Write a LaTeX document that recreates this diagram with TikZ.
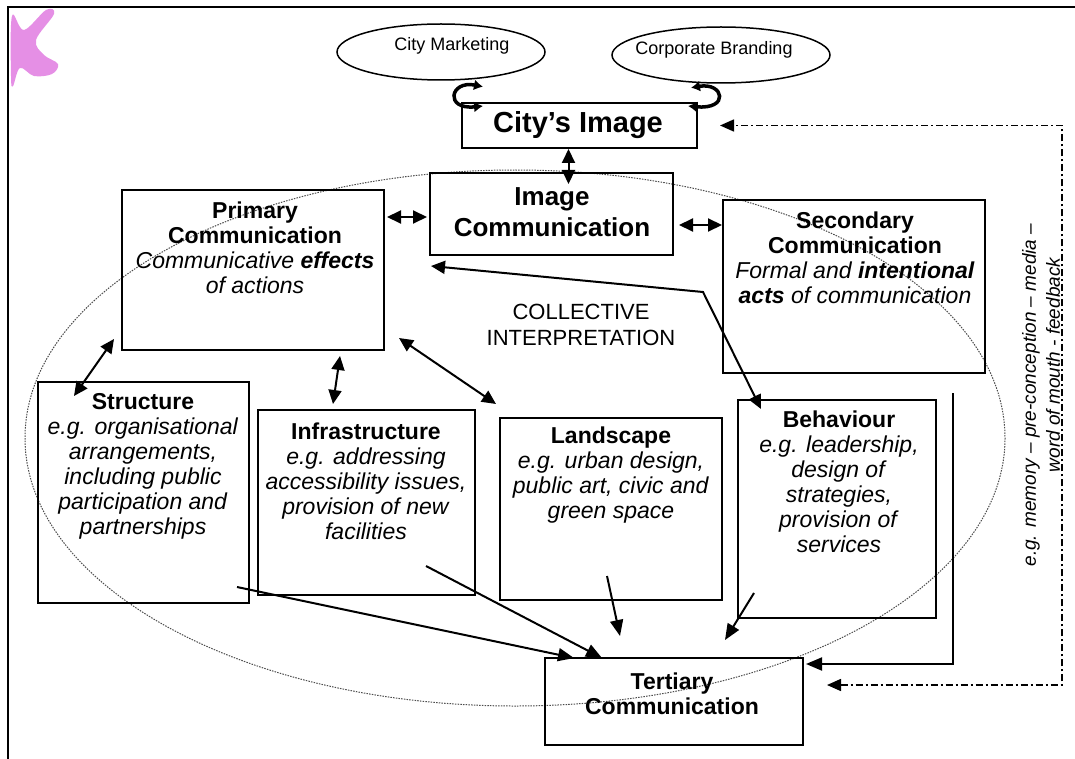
\documentclass[tikz,border=0pt]{standalone}
\usepackage{fontspec}
\setmainfont{Liberation Sans}
\usetikzlibrary{arrows.meta,calc,shapes.geometric}
\begin{document}
\begin{tikzpicture}[x=1pt,y=-1pt,
  box/.style={draw, line width=2pt, rectangle, inner sep=0pt},
  txt/.style={align=center, inner sep=0pt, font=\fontsize{23}{25}\selectfont},
  oval/.style={draw, line width=1.5pt, ellipse, inner sep=0pt},
  dbl/.style={line width=2pt, {Triangle[length=14pt,width=13pt]}-{Triangle[length=14pt,width=13pt]}},
  single/.style={line width=2pt, -{Triangle[length=16pt,width=13pt]}},
  loopar/.style={line width=3.5pt, {Latex[length=9pt,width=11pt]}-{Latex[length=9pt,width=11pt]}},
  fb/.style={line width=1.6pt, dash pattern=on 7pt off 3pt on 2pt off 3pt, {Triangle[length=14pt,width=12pt]}-{Triangle[length=14pt,width=12pt]}},
  dotline/.style={line width=1pt, black!70, dash pattern=on 1.5pt off 1.2pt}
]
\useasboundingbox (0,0) rectangle (1075,759);

% purple marker blob (scan artefact)
\fill[violet!45!magenta!55, opacity=0.8] plot[smooth cycle, tension=0.6] coordinates
  {(12,16) (24,30) (46,10) (54,14) (36,40) (44,55) (58,64) (52,74) (34,76) (20,68) (13,86) (11,76)};

% frame
\draw[line width=2.5pt] (8,759) -- (8,7) -- (1075,7);

% big dotted ellipse
\draw[dotline] (515,438) ellipse [x radius=490, y radius=268];

% ellipses
\node[oval, minimum width=208pt, minimum height=56pt] (cm) at (441,52) {};
\node[font=\fontsize{18}{20}\selectfont, inner sep=0pt] (cm-t) at (452,46) {City Marketing};
\node[oval, minimum width=218pt, minimum height=56pt] (cb) at (721,55) {};
\node[font=\fontsize{18}{20}\selectfont, inner sep=0pt] (cb-t) at (714,50) {Corporate Branding};

% boxes
\node[box, minimum width=235pt, minimum height=45pt] (cityimg) at (579.5,125.5) {};
\node[box, minimum width=243pt, minimum height=82pt] (imgcomm) at (551.5,214) {};
\node[box, minimum width=262pt, minimum height=160pt] (primary) at (253,270) {};
\node[box, minimum width=262pt, minimum height=173pt] (secondary) at (854,286.5) {};
\node[box, minimum width=211pt, minimum height=221pt] (structure) at (143.5,492.5) {};
\node[box, minimum width=217pt, minimum height=185pt] (infra) at (366.5,502.5) {};
\node[box, minimum width=222pt, minimum height=182pt] (landscape) at (611,509) {};
\node[box, minimum width=198pt, minimum height=218pt] (behaviour) at (837,509) {};
\node[box, minimum width=258pt, minimum height=87pt] (tertiary) at (674,701.5) {};

% texts
\node[inner sep=0pt, font=\bfseries\fontsize{29}{32}\selectfont] (cityimg-t) at (578,125) {City’s Image};
\node[align=center, inner sep=0pt, font=\bfseries\fontsize{26}{31}\selectfont] (imgcomm-t) at (552,212) {Image\\Communication};
\node[txt] (primary-t) at (255,248) {\textbf{Primary}\\\textbf{Communication}\\\textit{Communicative \textbf{effects}}\\\textit{of actions}};
\node[txt] (secondary-t) at (855,258) {\textbf{Secondary}\\\textbf{Communication}\\\textit{Formal and \textbf{intentional}}\\\textit{\textbf{acts} of communication}};
\node[txt] (structure-t) at (143,466) {\textbf{Structure}\\\textit{e.g. organisational}\\\textit{arrangements,}\\\textit{including public}\\\textit{participation and}\\\textit{partnerships}};
\node[txt] (infra-t) at (366,481) {\textbf{Infrastructure}\\\textit{e.g. addressing}\\\textit{accessibility issues,}\\\textit{provision of new}\\\textit{facilities}};
\node[txt] (landscape-t) at (611,475) {\textbf{Landscape}\\\textit{e.g. urban design,}\\\textit{public art, civic and}\\\textit{green space}};
\node[txt] (behaviour-t) at (839,482) {\textbf{Behaviour}\\\textit{e.g. leadership,}\\\textit{design of}\\\textit{strategies,}\\\textit{provision of}\\\textit{services}};
\node[txt] (tertiary-t) at (672,694) {\textbf{Tertiary}\\\textbf{Communication}};
\node[align=center, inner sep=0pt, font=\fontsize{22}{26}\selectfont] (collective) at (581,325) {COLLECTIVE\\INTERPRETATION};

% rotated feedback text
\node[rotate=90, inner sep=0pt, font=\itshape\fontsize{19}{21}\selectfont] (fbtext1) at (1031,395) {e.g. memory -- pre-conception -- media --};
\node[rotate=90, inner sep=0pt, font=\itshape\fontsize{19}{21}\selectfont] (fbtext2) at (1053,365) {word of mouth - feedback};

% loop arrows between ellipses and City's Image
\draw[loopar] ([xshift=42pt,yshift=-6pt]cm.south) .. controls (450,80) and (444,110) .. ([xshift=22pt,yshift=-4pt]cityimg.north west);
\draw[loopar] ([xshift=-30pt,yshift=-4pt]cb.south) .. controls (724,82) and (730,110) .. ([xshift=-10pt,yshift=-4pt]cityimg.north east);

% double arrows
\draw[dbl] ([xshift=-11pt]cityimg.south) -- ([xshift=17pt,yshift=-12pt]imgcomm.north);
\draw[dbl] ([xshift=2pt,yshift=53pt]primary.east) -- ([xshift=-2pt,yshift=-3pt]imgcomm.west);
\draw[dbl] ([xshift=5pt,yshift=-11pt]imgcomm.east) -- ([yshift=61.5pt]secondary.west);
\coordinate (bend) at (703,292);
\draw[dbl] ([xshift=2pt,yshift=-10pt]imgcomm.south west) -- (bend) -- ([xshift=24pt,yshift=-10pt]behaviour.north west);
\draw[dbl] ([xshift=-7pt,yshift=12pt]primary.south west) -- ([xshift=37pt,yshift=-15pt]structure.north west);
\draw[dbl] ([xshift=87pt,yshift=-5pt]primary.south) -- ([xshift=-33.5pt,yshift=5pt]infra.north);
\draw[dbl] ([xshift=14pt,yshift=13pt]primary.south east) -- ([xshift=-3pt,yshift=13pt]landscape.north west);

% arrows into Tertiary Communication
\draw[single] ([xshift=-13pt,yshift=17pt]structure.south east) -- ([xshift=30pt,yshift=-1pt]tertiary.north west);
\draw[single] ([xshift=-50pt,yshift=30pt]infra.south east) -- ([xshift=58pt,yshift=-1pt]tertiary.north west);
\draw[single] ([xshift=-4pt,yshift=25pt]landscape.south) -- ([xshift=-54pt,yshift=21pt]tertiary.north);
\draw[single] ([xshift=17pt,yshift=26pt]behaviour.south west) -- ([xshift=-79pt,yshift=17pt]tertiary.north east);
\coordinate (rl) at (953,393);
\draw[single] (rl) |- ([xshift=2pt,yshift=-7pt]tertiary.north east);

% feedback dash-dot loop
\coordinate (fbc) at (1062,125.5);
\draw[fb] ([xshift=23pt,yshift=-28pt]tertiary.north east) -| (fbc) -- ([xshift=22pt]cityimg.east);
\end{tikzpicture}
\end{document}
